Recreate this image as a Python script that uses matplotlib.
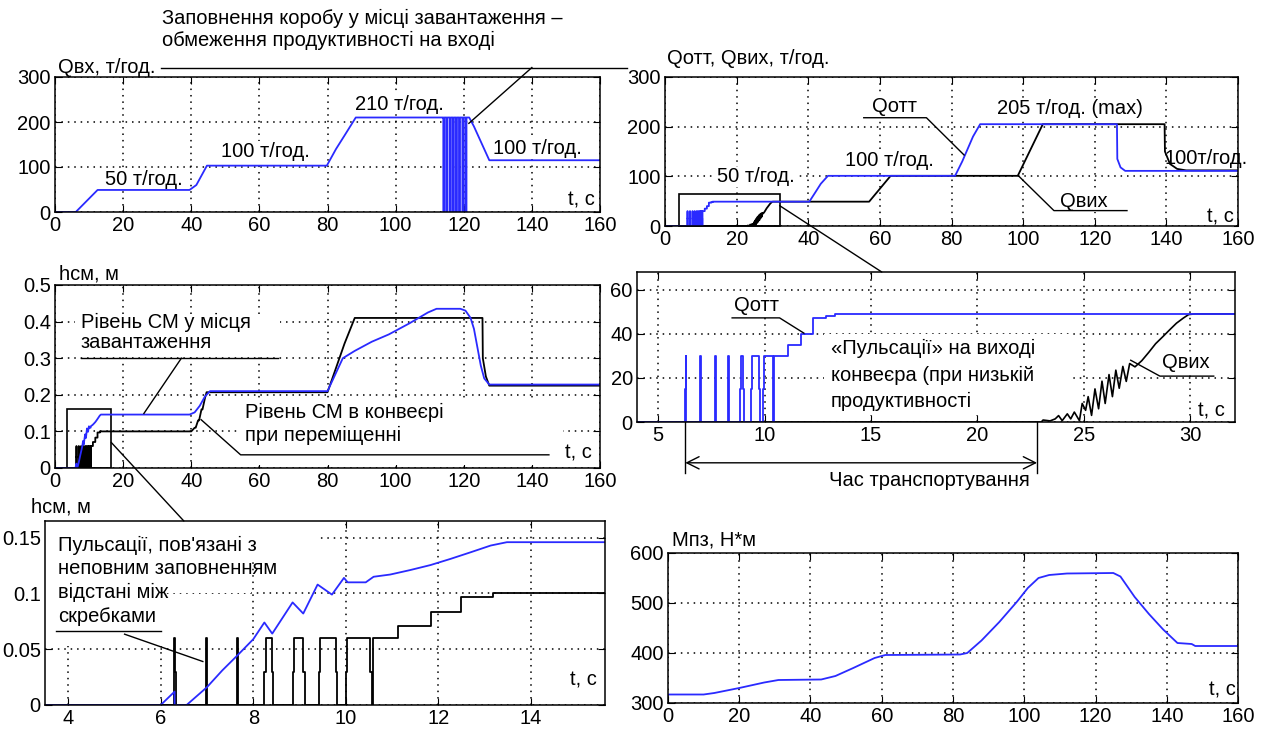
import matplotlib
matplotlib.use("Agg")
import matplotlib.pyplot as plt
from matplotlib import font_manager as fm
from matplotlib.patches import Rectangle, ConnectionPatch, Polygon
from matplotlib.ticker import FuncFormatter

# ---------------- data ----------------
# Top-left: input flow Qвх (t/h)
qin_t = [0, 6.1, 12.5, 39.5, 41.5, 44.6, 79.8, 82.5, 85, 88.3, 113.9]
qin_v = [0, 0, 49, 49, 60, 103, 103, 140, 170, 210, 210]
qin_pulses = [114.0, 114.9, 115.9, 116.8, 117.7, 118.6, 119.6, 120.5]
qin_tail_t = [121.6, 123, 127.5, 160]
qin_tail_v = [210, 190, 115, 115]

# Qотт (flow from loading point): early pulses, steps, then full run
qott_rise = [6.27, 6.96, 7.67, 8.27, 8.84, 9.37, 9.94]
qott_fall = [6.31, 7.00, 7.71, 8.33, 9.02, 9.78, 10.41]
qott_step_t = [10.45, 11.1, 11.7, 12.25, 12.9, 13.3]
qott_step_v = [30, 35, 40, 47, 48, 49]
qott_ext_t = [40.3, 42, 43.5, 45.5, 81, 83, 86, 88, 126.2, 126.3, 127.2, 128.5, 160]
qott_ext_v = [49, 68, 85, 101, 101, 130, 180, 205, 205, 135, 118, 111, 111]

# Qвих (conveyor output flow)
qout_saw_t = [23.0, 23.08, 23.41, 23.65, 23.81, 23.98, 24.22, 24.38, 24.55, 24.79,
              24.92, 25.08, 25.2, 25.36, 25.52, 25.69, 25.85, 26.0, 26.18, 26.34,
              26.5, 26.66, 26.83, 26.99, 27.15, 27.4, 27.72, 28.05, 28.37, 28.7,
              29.02, 29.35, 29.67, 29.92, 30.2]
qout_saw_v = [0, 0.9, 0.5, 1.4, 2.9, 0.6, 3.7, 1.4, 4.5, 0.6,
              8.4, 5.3, 11.5, 3.0, 15.0, 6.0, 18.5, 8.4, 21.5, 11.5,
              23.5, 15.3, 25.2, 18.4, 26.5, 25.0, 27.8, 31.6, 35.5, 38.6,
              41.7, 44.8, 47.1, 48.7, 49]
qout_ext_t = [57, 63, 98.5, 105.5, 139.5, 139.6, 141, 143, 145.5, 160]
qout_ext_v = [49, 101, 101, 205, 205, 150, 125, 115, 112, 112]

# hсм: level at loading point (blue)
hl_t = [6.0, 6.3, 6.3, 6.56, 7.0, 7.33, 7.67, 8.0, 8.24, 8.41, 8.85, 9.08, 9.39,
        9.7, 9.96, 10.04, 10.43, 10.6, 10.96, 11.39, 11.83, 12.26, 12.7, 13.13, 13.48]
hl_v = [0, 0.012, 0, 0, 0.016, 0.031, 0.045, 0.059, 0.074, 0.064, 0.092, 0.082, 0.108,
        0.099, 0.114, 0.110, 0.110, 0.115, 0.117, 0.121, 0.1255, 0.131, 0.137, 0.143, 0.146]
hl_ext_t = [39.5, 41, 42.5, 44, 45.5, 80, 81.5, 84.5, 88, 93, 98, 104, 109.5, 112,
            119, 120.5, 122, 123, 124, 125, 126, 127.5, 160]
hl_ext_v = [0.146, 0.152, 0.17, 0.195, 0.21, 0.21, 0.24, 0.3, 0.32, 0.345, 0.365,
            0.395, 0.425, 0.435, 0.435, 0.43, 0.41, 0.38, 0.33, 0.28, 0.245, 0.228, 0.228]

# hсм: level in conveyor during movement (black)
hc_rise = [6.28, 6.97, 7.64, 8.24, 8.85, 9.42, 10.00]
hc_fall = [6.32, 7.01, 7.68, 8.43, 9.11, 9.81, 10.56]
hc_step_t = [10.58, 11.13, 11.83, 12.48, 13.17]
hc_step_v = [0.06, 0.071, 0.083, 0.097, 0.1]
hc_ext_t = [40, 41, 41.3, 42, 42.3, 43, 43.3, 44, 44.5, 80, 82, 85, 88,
            125.5, 125.6, 126.5, 127.5, 160]
hc_ext_v = [0.1, 0.11, 0.11, 0.13, 0.13, 0.16, 0.16, 0.19, 0.207, 0.207, 0.26,
            0.34, 0.41, 0.41, 0.3, 0.25, 0.225, 0.225]

# Mпз torque
m_t = [0, 10, 13, 20, 27, 31, 43, 47, 52, 58, 61, 82, 84, 88, 93, 98, 101, 104,
       107, 112, 125, 127, 131, 135, 139, 143, 147, 148, 160]
m_v = [317, 317, 320, 330, 341, 346, 347, 354, 370, 390, 396, 397, 400, 425, 462,
       503, 530, 550, 556, 559, 560, 553, 512, 478, 447, 420, 418, 414, 414]

t_ticks_full = [0, 20, 40, 60, 80, 100, 120, 140, 160]
q_ticks = [0, 100, 200, 300]
h_ticks = [0, 0.1, 0.2, 0.3, 0.4, 0.5]
mr_xticks = [5, 10, 15, 20, 25, 30]
mr_yticks = [0, 20, 40, 60]
bl_xticks = [4, 6, 8, 10, 12, 14]
bl_yticks = [0, 0.05, 0.1, 0.15]
m_ticks = [300, 400, 500, 600]


# ---------------- helpers ----------------
def pulse_path(rise, fall, top, mid, d):
    t, v = [], []
    for r, f in zip(rise, fall):
        dd = min(d, (f - r) / 4.0)
        t += [r, r, r + dd, r + dd, f - dd, f - dd, f, f]
        v += [0, mid, mid, top, top, mid, mid, 0]
    return t, v


def step_path(ts, vs, prev=0.0):
    t, v = [], []
    for a, b in zip(ts, vs):
        t += [a, a]
        v += [prev, b]
        prev = b
    return t, v


def drop_pulses(times, level, w):
    t, v = [], []
    for p in times:
        t += [p, p, p + w, p + w]
        v += [level, 0, 0, level]
    return t, v


def pick_font(names):
    for n in names:
        try:
            fm.findfont(fm.FontProperties(family=n), fallback_to_default=False)
            return n
        except Exception:
            pass
    return "DejaVu Sans"


FONT = pick_font(["Liberation Sans", "Arial"])
plt.rcParams["font.family"] = [FONT, "DejaVu Sans"]
plt.rcParams["font.size"] = 14

BLUE = "#2a2aff"
FS = 14.5
WB = dict(fc="white", ec="none", pad=0.6)
TZ = 1.8  # labels with white box: above grid, below data lines

# build series
pt, pv = drop_pulses(qin_pulses, 210, 0.3)
qin_full_t = qin_t + pt + qin_tail_t
qin_full_v = qin_v + pv + qin_tail_v

a_t, a_v = pulse_path(qott_rise, qott_fall, 30, 15, 0.03)
s_t, s_v = step_path(qott_step_t, qott_step_v)
qott_full_t = [0] + a_t + s_t + [32] + qott_ext_t
qott_full_v = [0] + a_v + s_v + [49] + qott_ext_v

qout_full_t = [0] + qout_saw_t + qout_ext_t
qout_full_v = [0] + qout_saw_v + qout_ext_v

b_t, b_v = pulse_path(hc_rise, hc_fall, 0.06, 0.03, 0.03)
c_t, c_v = step_path(hc_step_t, hc_step_v)
hc_full_t = [0] + b_t + c_t + hc_ext_t
hc_full_v = [0] + b_v + c_v + hc_ext_v

hl_full_t = [0] + hl_t + hl_ext_t
hl_full_v = [0] + hl_v + hl_ext_v

# ---------------- figure ----------------
fig = plt.figure(figsize=(12.63, 7.33), dpi=100)
W, H = 1263.0, 733.0


def mk(l, r, top, bot):
    return fig.add_axes([l / W, 1 - bot / H, (r - l) / W, (bot - top) / H])


ax_tl = mk(55, 600, 77, 212)
ax_tr = mk(665, 1238, 77, 226)
ax_ml = mk(55, 600, 285, 468)
ax_mr = mk(637, 1235, 272, 422)
ax_bl = mk(45, 605, 521, 705)
ax_br = mk(668, 1238, 553, 703)

gfmt = FuncFormatter(lambda x, p: "%g" % x)
for ax in [ax_tl, ax_tr, ax_ml, ax_mr, ax_bl, ax_br]:
    ax.grid(True, color="k", linestyle=(0, (1, 3.2)), linewidth=1.1)
    ax.tick_params(direction="in", length=5, labelsize=FS, top=True, right=True, pad=3)
    for s in ax.spines.values():
        s.set_linewidth(1.1)
    ax.yaxis.set_major_formatter(gfmt)
    ax.xaxis.set_major_formatter(gfmt)

# ---- top-left
ax = ax_tl
ax.plot(qin_full_t, qin_full_v, color=BLUE, lw=1.3)
ax.set_xlim(0, 160); ax.set_ylim(0, 300)
ax.set_xticks(t_ticks_full); ax.set_yticks(q_ticks)
ax.text(1, 321, "Qвх, т/год.", fontsize=FS, va="center", ha="left", clip_on=False)
ax.plot([31, 168], [321, 321], color="k", lw=1, clip_on=False)
ax.plot([140, 121.5], [321, 197], color="k", lw=1, clip_on=False)
ax.text(31.5, 431, "Заповнення коробу у місці завантаження –", fontsize=FS, va="center", ha="left")
ax.text(31.5, 382, "обмеження продуктивності на вході", fontsize=FS, va="center", ha="left")
ax.text(26, 72, "50 т/год.", fontsize=FS, ha="center", va="center", bbox=WB, zorder=TZ)
ax.text(61.8, 134, "100 т/год.", fontsize=FS, ha="center", va="center", bbox=WB, zorder=TZ)
ax.text(101, 240, "210 т/год.", fontsize=FS, ha="center", va="center", bbox=WB, zorder=TZ)
ax.text(141.7, 140, "100 т/год.", fontsize=FS, ha="center", va="center", bbox=WB, zorder=TZ)
ax.text(154.5, 26, "t, c", fontsize=FS, ha="center", va="center", bbox=WB, zorder=TZ)

# ---- top-right
ax = ax_tr
ax.plot(qout_full_t, qout_full_v, color="k", lw=1.3)
ax.plot(qott_full_t, qott_full_v, color=BLUE, lw=1.3)
ax.set_xlim(0, 160); ax.set_ylim(0, 300)
ax.set_xticks(t_ticks_full); ax.set_yticks(q_ticks)
ax.add_patch(Rectangle((4, 0), 28, 65, fill=False, ec="k", lw=1.2, clip_on=False))
ax.text(0.6, 338, "Qотт, Qвих, т/год.", fontsize=FS, va="center", ha="left", clip_on=False)
ax.text(64, 240, "Qотт", fontsize=FS, ha="center", va="center", bbox=WB, zorder=TZ)
ax.plot([55.5, 73, 83.5], [218, 218, 143], color="k", lw=1)
ax.text(113, 236, "205 т/год. (max)", fontsize=FS, ha="center", va="center", bbox=WB, zorder=TZ)
ax.text(62.8, 132, "100 т/год.", fontsize=FS, ha="center", va="center", bbox=WB, zorder=TZ)
ax.text(25.4, 99, "50 т/год.", fontsize=FS, ha="center", va="center", bbox=WB, zorder=TZ)
ax.text(151, 136, "100т/год.", fontsize=FS, ha="center", va="center", clip_on=False)
ax.text(117, 49, "Qвих", fontsize=FS, ha="center", va="center", bbox=WB, zorder=TZ)
ax.plot([98.7, 108.6, 129], [101, 31, 31], color="k", lw=1)
ax.text(155, 18, "t, c", fontsize=FS, ha="center", va="center", bbox=WB, zorder=TZ)

# ---- middle-left
ax = ax_ml
ax.add_patch(Rectangle((6, 0.305), 60, 0.115, fc="white", ec="none", zorder=1.6))
ax.add_patch(Rectangle((54, 0.008), 95, 0.18, fc="white", ec="none", zorder=1.6))
ax.plot(hc_full_t, hc_full_v, color="k", lw=1.3)
ax.plot(hl_full_t, hl_full_v, color=BLUE, lw=1.3)
ax.set_xlim(0, 160); ax.set_ylim(0, 0.5)
ax.set_xticks(t_ticks_full); ax.set_yticks(h_ticks)
ax.add_patch(Rectangle((3.5, 0), 13.0, 0.16, fill=False, ec="k", lw=1.2))
ax.text(1.2, 0.53, "hсм, м", fontsize=FS, va="center", ha="left", clip_on=False)
ax.text(7.5, 0.398, "Рівень СМ у місця", fontsize=FS, va="center", ha="left")
ax.text(7.5, 0.343, "завантаження", fontsize=FS, va="center", ha="left")
ax.plot([7.5, 65.5], [0.3, 0.3], color="k", lw=1)
ax.plot([37.1, 26.1], [0.3, 0.149], color="k", lw=1)
ax.text(55.7, 0.152, "Рівень СМ в конвеєрі", fontsize=FS, va="center", ha="left")
ax.text(55.7, 0.088, "при переміщенні", fontsize=FS, va="center", ha="left")
ax.plot([145, 54.5, 42.9], [0.036, 0.036, 0.132], color="k", lw=1)
ax.text(153.6, 0.04, "t, c", fontsize=FS, ha="center", va="center", bbox=WB, zorder=TZ)

# ---- middle-right
ax = ax_mr
ax.add_patch(Rectangle((12.8, 3.0), 11.5, 37.0, fc="white", ec="none", zorder=1.6))
ax.plot(qout_full_t, qout_full_v, color="k", lw=1.2)
ax.plot(qott_full_t, qott_full_v, color=BLUE, lw=1.3)
ax.set_xlim(4, 32.1); ax.set_ylim(0, 68)
ax.set_xticks(mr_xticks); ax.set_yticks(mr_yticks)
ax.text(9.6, 53, "Qотт", fontsize=FS, ha="center", va="center", bbox=WB, zorder=TZ)
ax.plot([8.47, 10.7, 11.84], [47.2, 47.2, 40.3], color="k", lw=1)
ax.text(13.1, 33.4, "«Пульсації» на виході", fontsize=FS, va="center", ha="left")
ax.text(13.1, 21.1, "конвеєра (при низькій", fontsize=FS, va="center", ha="left")
ax.text(13.1, 9.5, "продуктивності", fontsize=FS, va="center", ha="left")
ax.text(29.8, 27.0, "Qвих", fontsize=FS, ha="center", va="center", bbox=WB, zorder=TZ)
ax.plot([27.2, 28.57, 31.1], [28, 20.8, 20.8], color="k", lw=1)
ax.text(31.0, 5.0, "t, c", fontsize=FS, ha="center", va="center", bbox=WB, zorder=TZ)
for xv in [qott_rise[0], qout_saw_t[0] - 0.2]:
    ax.plot([xv, xv], [0, -23], color="k", lw=1, clip_on=False)
ax.annotate("", xy=(qott_rise[0], -18.5), xytext=(qout_saw_t[0] - 0.2, -18.5),
            arrowprops=dict(arrowstyle="<->", lw=1, color="k", mutation_scale=22,
                            shrinkA=0, shrinkB=0), annotation_clip=False)
ax.text(17.75, -26.5, "Час транспортування", fontsize=FS, ha="center", va="center", clip_on=False)

# ---- bottom-left
ax = ax_bl
ax.add_patch(Polygon([(3.5, 0.053), (6.05, 0.053), (6.05, 0.1), (7.95, 0.1),
                      (7.95, 0.128), (9.4, 0.128), (9.4, 0.165), (3.5, 0.165)],
                     closed=True, fc="white", ec="none", zorder=1.6))
ax.plot(hc_full_t, hc_full_v, color="k", lw=1.3)
ax.plot(hl_full_t, hl_full_v, color=BLUE, lw=1.3)
ax.set_xlim(3.5, 15.6); ax.set_ylim(0, 0.165)
ax.set_xticks(bl_xticks); ax.set_yticks(bl_yticks)
ax.text(3.2, 0.178, "hсм, м", fontsize=FS, va="center", ha="left", clip_on=False)
ax.text(3.78, 0.1435, "Пульсації, пов'язані з", fontsize=FS, va="center", ha="left")
ax.text(3.78, 0.122, "неповним заповненням", fontsize=FS, va="center", ha="left")
ax.text(3.78, 0.1005, "відстані між", fontsize=FS, va="center", ha="left")
ax.text(3.78, 0.079, "скребками", fontsize=FS, va="center", ha="left")
ax.plot([3.74, 6.0], [0.066, 0.066], color="k", lw=1)
ax.plot([5.22, 6.91], [0.0635, 0.039], color="k", lw=1)
ax.text(15.13, 0.022, "t, c", fontsize=FS, ha="center", va="center", bbox=WB, zorder=TZ)

# ---- bottom-right
ax = ax_br
ax.plot(m_t, m_v, color=BLUE, lw=1.3)
ax.set_xlim(0, 160); ax.set_ylim(300, 600)
ax.set_xticks(t_ticks_full); ax.set_yticks(m_ticks)
ax.text(1.2, 625, "Mпз, Н*м", fontsize=FS, va="center", ha="left", clip_on=False)
ax.text(155.5, 327, "t, c", fontsize=FS, ha="center", va="center", bbox=WB, zorder=TZ)

# connector lines between overview boxes and zoomed plots
con1 = ConnectionPatch(xyA=(32, 41), coordsA=ax_tr.transData,
                       xyB=(15.5, 68), coordsB=ax_mr.transData, color="k", lw=1)
fig.add_artist(con1)
con2 = ConnectionPatch(xyA=(16.5, 0.07), coordsA=ax_ml.transData,
                       xyB=(6.5, 0.165), coordsB=ax_bl.transData, color="k", lw=1)
fig.add_artist(con2)

fig.savefig("out.png", dpi=100, facecolor="white")
